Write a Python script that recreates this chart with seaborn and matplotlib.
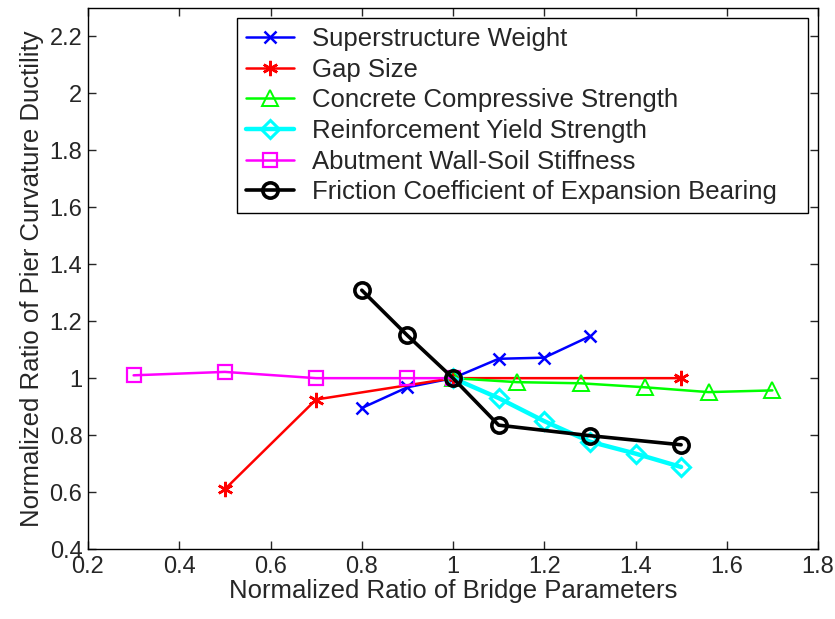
import matplotlib
matplotlib.use("Agg")
import matplotlib.pyplot as plt
import seaborn as sns
import pandas as pd

# Sensitivity of pier curvature ductility to bridge parameters
weight_x = [0.8, 0.9, 1.0, 1.1, 1.2, 1.3]
weight_y = [0.895, 0.968, 1.0, 1.068, 1.072, 1.147]

gap_x = [0.5, 0.7, 1.0, 1.5]
gap_y = [0.61, 0.925, 1.0, 1.0]

concrete_x = [1.0, 1.14, 1.28, 1.42, 1.56, 1.7]
concrete_y = [1.0, 0.986, 0.982, 0.968, 0.951, 0.957]

rebar_x = [1.0, 1.1, 1.2, 1.3, 1.4, 1.5]
rebar_y = [1.0, 0.93, 0.849, 0.777, 0.735, 0.688]

abutment_x = [0.3, 0.5, 0.7, 0.9, 1.0]
abutment_y = [1.01, 1.022, 1.0, 1.0, 1.0]

friction_x = [0.8, 0.9, 1.0, 1.1, 1.3, 1.5]
friction_y = [1.309, 1.15, 1.0, 0.835, 0.798, 0.766]

labels = [
    "Superstructure Weight",
    "Gap Size",
    "Concrete Compressive Strength",
    "Reinforcement Yield Strength",
    "Abutment Wall-Soil Stiffness",
    "Friction Coefficient of Expansion Bearing",
]

x_ticks = [0.2, 0.4, 0.6, 0.8, 1.0, 1.2, 1.4, 1.6, 1.8]
x_tick_labels = ["0.2", "0.4", "0.6", "0.8", "1", "1.2", "1.4", "1.6", "1.8"]
y_ticks = [0.4, 0.6, 0.8, 1.0, 1.2, 1.4, 1.6, 1.8, 2.0, 2.2]
y_tick_labels = ["0.4", "0.6", "0.8", "1", "1.2", "1.4", "1.6", "1.8", "2", "2.2"]

sns.set_style("ticks")
plt.rcParams["font.family"] = ["Liberation Sans", "DejaVu Sans"]

fig = plt.figure(figsize=(8.35, 6.19), dpi=100)
ax = fig.add_axes([88 / 835, 70 / 619, (818 - 88) / 835, (549 - 8) / 619])

series = [
    (weight_x, weight_y, "#0000ff", "x", 8, 1.8, 1.8),
    (gap_x, gap_y, "#ff0000", (6, 2, 0), 11, 1.8, 1.8),
    (concrete_x, concrete_y, "#00ff00", "^", 12, 1.8, 1.4),
    (rebar_x, rebar_y, "#00ffff", "D", 9.5, 3.2, 2.2),
    (abutment_x, abutment_y, "#ff00ff", "s", 10, 1.8, 1.6),
    (friction_x, friction_y, "#000000", "o", 11, 2.6, 2.6),
]

for (xs, ys, color, marker, ms, lw, mew), label in zip(series, labels):
    df = pd.DataFrame({"x": xs, "y": ys})
    sns.lineplot(
        data=df, x="x", y="y", ax=ax, sort=False, estimator=None,
        color=color, linewidth=lw, marker=marker, markersize=ms,
        markerfacecolor="none", markeredgecolor=color, markeredgewidth=mew,
        label=label,
    )

ax.set_xlim(0.2, 1.8)
ax.set_ylim(0.4, 2.3)
ax.set_xticks(x_ticks)
ax.set_xticklabels(x_tick_labels)
ax.set_yticks(y_ticks)
ax.set_yticklabels(y_tick_labels)
ax.tick_params(direction="in", top=True, right=True, length=6, width=1,
               labelsize=17, pad=4)
ax.tick_params(axis="x", pad=5)
for sp in ax.spines.values():
    sp.set_visible(True)
    sp.set_color("black")
    sp.set_linewidth(1)

ax.set_xlabel("Normalized Ratio of Bridge Parameters", fontsize=18.5, labelpad=1)
ax.set_ylabel("Normalized Ratio of Pier Curvature Ductility", fontsize=18.5, labelpad=4)

leg = ax.legend(loc="upper left",
                bbox_to_anchor=(237 / 835, 1 - 208 / 619, (808 - 237) / 835, 190 / 619),
                bbox_transform=fig.transFigure, mode="expand", fontsize=18.5,
                frameon=True, fancybox=False, edgecolor="black", framealpha=1,
                borderpad=0.35, labelspacing=0.26, handlelength=1.85,
                handletextpad=0.7, borderaxespad=0)
leg.get_frame().set_linewidth(1)

fig.savefig("out.png", dpi=100, facecolor="white")
